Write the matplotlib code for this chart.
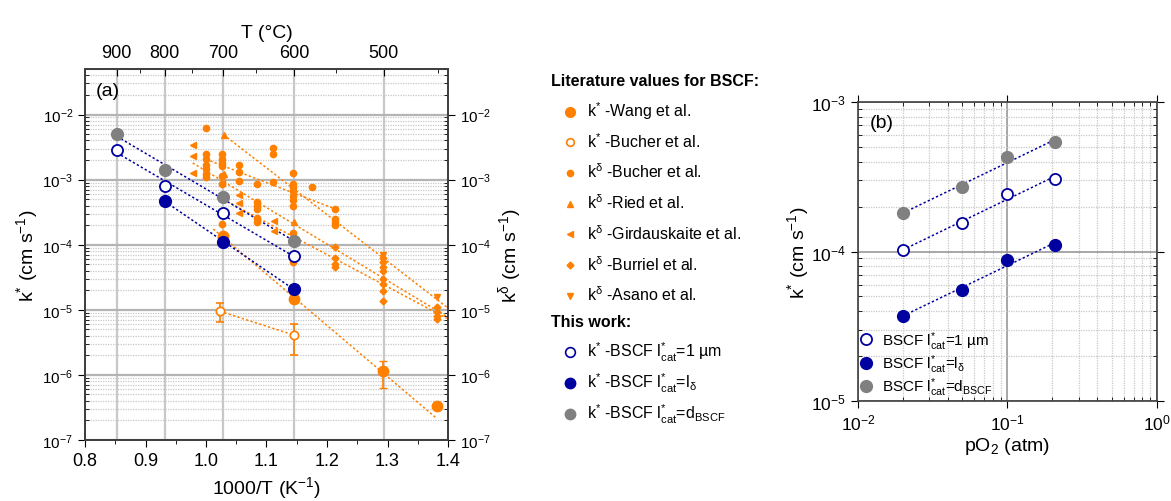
import numpy as np
import matplotlib
matplotlib.use('Agg')
import matplotlib.pyplot as plt
from matplotlib.lines import Line2D
from matplotlib.ticker import LogLocator, NullFormatter, FixedLocator, MultipleLocator

plt.rcParams['font.family'] = ['Liberation Sans', 'DejaVu Sans']
plt.rcParams['mathtext.default'] = 'regular'

ORANGE = '#ff8000'
NAVY = '#0000a0'
GREY = '#808080'

# ---------------- panel (a): this work, x = 1000/T (K^-1), k* (cm s^-1)
tw_x = np.array([0.853, 0.932, 1.028, 1.145])
k_1um = np.array([2.85e-3, 8.0e-4, 3.05e-4, 6.7e-5])
k_dbscf = np.array([5.1e-3, 1.41e-3, 5.4e-4, 1.16e-4])
ldelta_x = np.array([0.932, 1.028, 1.145])
k_ldelta = np.array([4.7e-4, 1.1e-4, 2.1e-5])

# literature k*
wang_x = np.array([1.028, 1.145, 1.293, 1.381])
wang_k = np.array([1.38e-4, 1.45e-5, 1.15e-6, 3.3e-7])
wang_err_lo = np.array([0.0, 0.0, 5.2e-7, 0.3e-7])
wang_err_hi = np.array([0.0, 0.0, 5.1e-7, 0.4e-7])

bucher_ks_x = np.array([1.023, 1.145])
bucher_ks_k = np.array([9.5e-6, 4.1e-6])
bucher_ks_err_lo = np.array([2.9e-6, 2.1e-6])
bucher_ks_err_hi = np.array([3.4e-6, 1.9e-6])

# literature k_delta
bucher_kd_x = np.array([1.0, 1.0, 1.0, 1.0, 1.0, 1.0, 1.0,
                        1.026, 1.026, 1.026, 1.026, 1.026, 1.026, 1.026,
                        1.055, 1.055, 1.055,
                        1.084, 1.084, 1.084, 1.084, 1.084, 1.084,
                        1.111, 1.111, 1.111,
                        1.144, 1.144, 1.144, 1.144, 1.144, 1.144, 1.144, 1.144, 1.144,
                        1.176, 1.213, 1.213, 1.213, 1.213])
bucher_kd_k = np.array([6.3e-3, 2.45e-3, 2.05e-3, 1.65e-3, 1.45e-3, 1.2e-3, 1.1e-3,
                        2.45e-3, 2.05e-3, 1.8e-3, 1.6e-3, 1.15e-3, 8.5e-4, 2.1e-4,
                        1.66e-3, 1.3e-3, 9.5e-4,
                        8.5e-4, 4.5e-4, 4.0e-4, 3.5e-4, 2.6e-4, 2.2e-4,
                        3.1e-3, 2.5e-3, 9.1e-4,
                        1.25e-3, 8.5e-4, 7.8e-4, 6.8e-4, 5.6e-4, 4.8e-4, 4.0e-4, 1.5e-4, 5.5e-5,
                        7.6e-4, 3.55e-4, 2.5e-4, 2.2e-4, 2.0e-4])

ried_x = np.array([1.029, 1.029, 1.146])
ried_k = np.array([4.9e-3, 1.2e-3, 2.2e-4])

gird_x = np.array([0.978, 0.978, 0.978, 1.026, 1.055, 1.055, 1.055, 1.113, 1.113])
gird_k = np.array([3.4e-3, 2.3e-3, 1.25e-3, 9.0e-4, 5.8e-4, 4.4e-4, 3.1e-4, 2.3e-4, 1.65e-4])

burriel_x = np.array([1.213, 1.213, 1.213, 1.213,
                      1.293, 1.293, 1.293, 1.293, 1.293, 1.293, 1.293, 1.293,
                      1.381, 1.381, 1.381, 1.381])
burriel_k = np.array([9.3e-5, 6.2e-5, 5.1e-5, 4.6e-5,
                      6.2e-5, 5.5e-5, 4.6e-5, 3.9e-5, 3.0e-5, 2.5e-5, 1.95e-5, 1.35e-5,
                      1.1e-5, 9.1e-6, 8.1e-6, 7.1e-6])

asano_x = np.array([1.293, 1.381])
asano_k = np.array([6.9e-5, 1.55e-5])

# published Arrhenius fits (end points)
wang_fit_x, wang_fit_k = [1.012, 1.380], [1.74e-4, 2.2e-7]
bucher_ks_fit_x, bucher_ks_fit_k = [1.023, 1.145], [9.5e-6, 4.1e-6]
bucher_kd_fit_x, bucher_kd_fit_k = [1.0, 1.213], [2.05e-3, 3.55e-4]
ried_fit_x, ried_fit_k = [1.029, 1.398], [4.9e-3, 1.1e-5]
gird_fit_x, gird_fit_k = [0.978, 1.398], [1.8e-3, 7.9e-6]
burriel_fit_x, burriel_fit_k = [1.028, 1.398], [5.0e-4, 7.4e-6]

# top axis temperatures
T_major = np.array([900, 800, 700, 600, 500])
T_minor = np.array([850, 750, 650, 550, 450])

# ---------------- panel (b): pO2 dependence
po2 = np.array([0.02, 0.05, 0.1, 0.21])
b_1um = np.array([1.02e-4, 1.545e-4, 2.44e-4, 3.06e-4])
b_ldelta = np.array([3.68e-5, 5.55e-5, 8.77e-5, 1.10e-4])
b_dbscf = np.array([1.80e-4, 2.72e-4, 4.30e-4, 5.39e-4])


def fit_line(x, y, logx=False):
    xv = np.log10(x) if logx else np.asarray(x)
    p = np.polyfit(xv, np.log10(y), 1)
    xx = np.array([xv.min(), xv.max()])
    yy = 10 ** np.polyval(p, xx)
    return (10 ** xx if logx else xx), yy


W, H = 1171, 502
fig = plt.figure(figsize=(W / 100, H / 100), dpi=100)
ax = fig.add_axes([85 / W, 1 - 441 / H, 363 / W, 371 / H])

dot = (0, (1.5, 1.5))
# literature fit lines
for fx_, fk_ in [(wang_fit_x, wang_fit_k), (bucher_ks_fit_x, bucher_ks_fit_k),
                 (bucher_kd_fit_x, bucher_kd_fit_k), (ried_fit_x, ried_fit_k),
                 (gird_fit_x, gird_fit_k), (burriel_fit_x, burriel_fit_k)]:
    ax.plot(fx_, fk_, ls=dot, color=ORANGE, lw=1.1, zorder=2)

# this-work fit lines
for xs, ys in [(tw_x, k_1um), (tw_x, k_dbscf), (ldelta_x, k_ldelta)]:
    lx, ly = fit_line(xs, ys)
    ax.plot(lx, ly, ls=dot, color=NAVY, lw=1.1, zorder=2)

small = dict(ls='none', color=ORANGE, zorder=3)
ax.plot(bucher_kd_x, bucher_kd_k, marker='o', ms=4.5, **small)
ax.plot(ried_x, ried_k, marker='^', ms=5, **small)
ax.plot(gird_x, gird_k, marker='<', ms=5, **small)
ax.plot(burriel_x, burriel_k, marker='D', ms=3.5, **small)
ax.plot(asano_x, asano_k, marker='v', ms=5, **small)

ax.errorbar(wang_x, wang_k, yerr=[wang_err_lo, wang_err_hi], fmt='o', ms=7.5,
            color=ORANGE, ecolor=ORANGE, elinewidth=1.2, capsize=3, zorder=4)
ax.errorbar(bucher_ks_x, bucher_ks_k, yerr=[bucher_ks_err_lo, bucher_ks_err_hi], fmt='o',
            ms=6, mfc='white', mec=ORANGE, mew=1.2, ecolor=ORANGE, elinewidth=1.2,
            capsize=3, zorder=4)

ax.plot(tw_x, k_dbscf, 'o', ms=8.5, color=GREY, zorder=5)
ax.plot(tw_x, k_1um, 'o', ms=8, mfc='white', mec=NAVY, mew=1.3, zorder=5)
ax.plot(ldelta_x, k_ldelta, 'o', ms=8.5, color=NAVY, zorder=5)

ax.set_xlim(0.8, 1.4)
ax.set_yscale('log')
ax.set_ylim(1e-7, 0.05)
ax.xaxis.set_major_locator(MultipleLocator(0.1))
ax.xaxis.set_minor_locator(MultipleLocator(0.05))
ax.xaxis.set_major_formatter(plt.FuncFormatter(lambda v, p: f'{v:.1f}'))
ax.yaxis.set_major_locator(LogLocator(base=10, numticks=20))
ax.yaxis.set_minor_locator(LogLocator(base=10, subs=np.arange(2, 10), numticks=20))
ax.yaxis.set_minor_formatter(NullFormatter())
ax.set_axisbelow(True)
ax.grid(which='major', axis='y', color='#b4b4b4', lw=1.6)
ax.grid(which='minor', axis='y', color='#c8c8c8', lw=0.9, ls=(0, (1, 1)))
for t in T_major:
    ax.axvline(1000 / (t + 273.15), color='#c8c8c8', lw=1.6, zorder=0.5)
ax.tick_params(axis='x', which='major', direction='out', length=5, labelsize=13)
ax.tick_params(axis='x', which='minor', direction='out', length=3)
ax.tick_params(axis='y', which='major', direction='out', length=5, labelsize=11)
ax.tick_params(axis='y', which='minor', direction='in', length=3)
ax.set_xlabel('1000/T (K$^{-1}$)', fontsize=14, labelpad=4)
ax.set_ylabel('k$^{*}$ (cm s$^{-1}$)', fontsize=14, labelpad=2)
ax.text(0.03, 0.965, '(a)', transform=ax.transAxes, va='top', ha='left', fontsize=14)

ax_top = ax.twiny()
ax_top.set_xlim(ax.get_xlim())
ax_top.xaxis.set_major_locator(FixedLocator(1000 / (T_major + 273.15)))
ax_top.xaxis.set_minor_locator(FixedLocator(1000 / (T_minor + 273.15)))
ax_top.set_xticklabels([str(t) for t in T_major])
ax_top.tick_params(axis='x', which='major', direction='in', length=5, labelsize=13, pad=6)
ax_top.tick_params(axis='x', which='minor', direction='in', length=3)
ax_top.set_xlabel('T (°C)', fontsize=14, labelpad=5)

ax_r = ax.twinx()
ax_r.set_yscale('log')
ax_r.set_ylim(ax.get_ylim())
ax_r.yaxis.set_major_locator(LogLocator(base=10, numticks=20))
ax_r.yaxis.set_minor_locator(LogLocator(base=10, subs=np.arange(2, 10), numticks=20))
ax_r.yaxis.set_minor_formatter(NullFormatter())
ax_r.tick_params(axis='y', which='major', direction='out', length=5, labelsize=11)
ax_r.tick_params(axis='y', which='minor', direction='in', length=3)
ax_r.set_ylabel('k$^{δ}$ (cm s$^{-1}$)', fontsize=14, labelpad=4)

for a in (ax, ax_top, ax_r):
    for s in a.spines.values():
        s.set_color('#404040')
        s.set_linewidth(1.2)

# ---------------- legend of panel (a), drawn as a separate block
def fpos(px, py):
    return px / W, 1 - py / H

lit_rows = [
    (dict(marker='o', ms=7, color=ORANGE), 'k$^{*}$ -Wang et al.'),
    (dict(marker='o', ms=5.5, mfc='white', mec=ORANGE, mew=1.2), 'k$^{*}$ -Bucher et al.'),
    (dict(marker='o', ms=4.5, color=ORANGE), 'k$^{δ}$ -Bucher et al.'),
    (dict(marker='^', ms=5, color=ORANGE), 'k$^{δ}$ -Ried et al.'),
    (dict(marker='<', ms=5, color=ORANGE), 'k$^{δ}$ -Girdauskaite et al.'),
    (dict(marker='D', ms=3.5, color=ORANGE), 'k$^{δ}$ -Burriel et al.'),
    (dict(marker='v', ms=5, color=ORANGE), 'k$^{δ}$ -Asano et al.'),
]
tw_rows = [
    (dict(marker='o', ms=7, mfc='white', mec=NAVY, mew=1.2), 'k$^{*}$ -BSCF $l^{*}_{cat}$=1 µm'),
    (dict(marker='o', ms=7.5, color=NAVY), 'k$^{*}$ -BSCF $l^{*}_{cat}$=$l_{δ}$'),
    (dict(marker='o', ms=7.5, color=GREY), 'k$^{*}$ -BSCF $l^{*}_{cat}$=$d_{BSCF}$'),
]
fig.text(*fpos(551, 86), 'Literature values for BSCF:', fontsize=11.5, fontweight='bold')
for i, (style, label) in enumerate(lit_rows):
    y = 112.5 + 30.7 * i
    fig.add_artist(Line2D([570 / W], [1 - y / H], transform=fig.transFigure, ls='none', **style))
    fig.text(*fpos(587, y + 4.6), label, fontsize=11.5)
fig.text(*fpos(551, 326.7), 'This work:', fontsize=11.5, fontweight='bold')
for i, (style, label) in enumerate(tw_rows):
    y = 352.5 + 31 * i
    fig.add_artist(Line2D([570 / W], [1 - y / H], transform=fig.transFigure, ls='none', **style))
    fig.text(*fpos(587, y + 4.6), label, fontsize=11.5)

# ---------------- panel (b)
axb = fig.add_axes([858 / W, 1 - 401.7 / H, 298.7 / W, 298.4 / H])
for ys in (b_1um, b_ldelta, b_dbscf):
    lx, ly = fit_line(po2, ys, logx=True)
    axb.plot(lx, ly, ls=dot, color=NAVY, lw=1.1, zorder=2)
axb.plot(po2, b_1um, 'o', ms=8, mfc='white', mec=NAVY, mew=1.3, zorder=4,
         label='BSCF $l^{*}_{cat}$=1 µm')
axb.plot(po2, b_ldelta, 'o', ms=8.5, color=NAVY, zorder=4, label='BSCF $l^{*}_{cat}$=$l_{δ}$')
axb.plot(po2, b_dbscf, 'o', ms=8.5, color=GREY, zorder=4, label='BSCF $l^{*}_{cat}$=$d_{BSCF}$')
axb.set_xscale('log')
axb.set_yscale('log')
axb.set_xlim(1e-2, 1)
axb.set_ylim(1e-5, 1e-3)
for a_ in (axb.xaxis, axb.yaxis):
    a_.set_major_locator(LogLocator(base=10, numticks=10))
    a_.set_minor_locator(LogLocator(base=10, subs=np.arange(2, 10), numticks=10))
    a_.set_minor_formatter(NullFormatter())
axb.set_axisbelow(True)
axb.grid(which='major', color='#909090', lw=1.1)
axb.grid(which='minor', color='#c8c8c8', lw=0.9, ls=(0, (1, 1)))
axb.tick_params(which='major', direction='out', length=5, labelsize=12.5, top=True, right=True)
axb.tick_params(which='minor', direction='in', length=3, top=True, right=True)
axb.set_xlabel('pO$_2$ (atm)', fontsize=14, labelpad=2)
axb.set_ylabel('k$^{*}$ (cm s$^{-1}$)', fontsize=14)
axb.yaxis.set_label_coords(-0.158, 0.5)
axb.text(0.04, 0.96, '(b)', transform=axb.transAxes, va='top', ha='left', fontsize=14)
axb.legend(loc='lower left', frameon=False, fontsize=11, handlelength=0.7,
           handletextpad=0.7, labelspacing=0.05, borderaxespad=0.0, borderpad=0.15)
for s in axb.spines.values():
    s.set_color('#404040')
    s.set_linewidth(1.2)

fig.savefig('out.png', dpi=100)
